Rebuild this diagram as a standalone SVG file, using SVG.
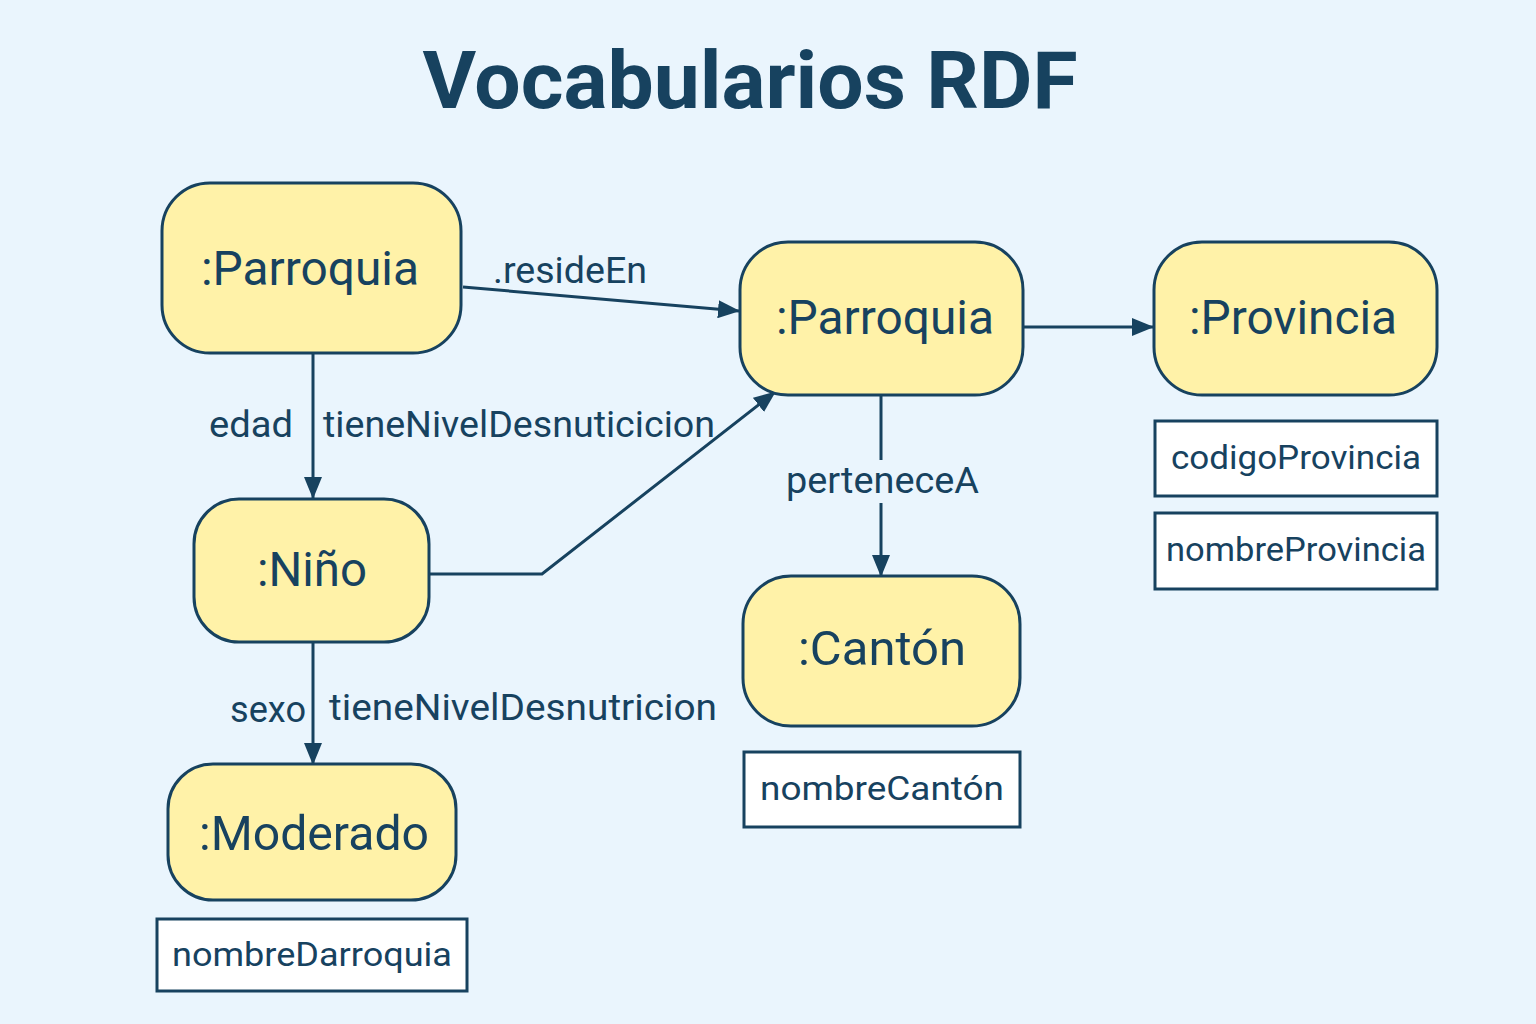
<svg xmlns="http://www.w3.org/2000/svg" width="1536" height="1024" viewBox="0 0 1536 1024">
<defs>
<marker id="arr" viewBox="0 0 22 18" refX="21" refY="9" markerWidth="22" markerHeight="18" markerUnits="userSpaceOnUse" orient="auto">
<path d="M0,0 L22,9 L0,18 z" fill="#17425f"/>
</marker>
<style>
.node{fill:#fff2a8;stroke:#17425f;stroke-width:3}
.attr{fill:#ffffff;stroke:#17425f;stroke-width:3}
.nt{font-family:Roboto,"Liberation Sans",sans-serif;font-size:48px;fill:#17425f;text-anchor:middle}
.at{font-family:Roboto,"Liberation Sans",sans-serif;font-size:34px;fill:#17425f;text-anchor:middle}
.lb{font-family:Roboto,"Liberation Sans",sans-serif;font-size:36px;fill:#17425f}
.ln{fill:none;stroke:#17425f;stroke-width:3}
</style>
</defs>
<rect width="1536" height="1024" fill="#eaf5fd"/>
<text x="750" y="108" font-family="Roboto,'Liberation Sans',sans-serif" font-weight="bold" font-size="80" fill="#17425f" text-anchor="middle" textLength="655" lengthAdjust="spacingAndGlyphs">Vocabularios RDF</text>

<g id="connectors">
<path class="ln" d="M463,287 L739,311" marker-end="url(#arr)"/>
<path class="ln" d="M313,353 L313,498" marker-end="url(#arr)"/>
<path class="ln" d="M429,574 L542,574 L775,392" marker-end="url(#arr)"/>
<path class="ln" d="M1023,327 L1153,327" marker-end="url(#arr)"/>
<path class="ln" d="M881,396 L881,460"/>
<path class="ln" d="M881,503 L881,576" marker-end="url(#arr)"/>
<path class="ln" d="M313,642 L313,764" marker-end="url(#arr)"/>
<text class="lb" x="493" y="283" textLength="154" lengthAdjust="spacingAndGlyphs">.resideEn</text>
<text class="lb" x="209" y="437" textLength="84" lengthAdjust="spacingAndGlyphs">edad</text>
<text class="lb" x="323" y="437" textLength="392" lengthAdjust="spacingAndGlyphs">tieneNivelDesnuticicion</text>
<text class="lb" x="786" y="493" textLength="193" lengthAdjust="spacingAndGlyphs">perteneceA</text>
<text class="lb" x="230" y="722" textLength="76" lengthAdjust="spacingAndGlyphs">sexo</text>
<text class="lb" x="329" y="720" textLength="388" lengthAdjust="spacingAndGlyphs">tieneNivelDesnutricion</text>
</g>

<g id="parroquia1">
<rect class="node" x="162" y="183" width="299" height="170" rx="48"/>
<text class="nt" x="310" y="285" textLength="218" lengthAdjust="spacingAndGlyphs">:Parroquia</text>
</g>
<g id="parroquia2">
<rect class="node" x="740" y="242" width="283" height="153" rx="48"/>
<text class="nt" x="885" y="334" textLength="218" lengthAdjust="spacingAndGlyphs">:Parroquia</text>
</g>
<g id="provincia">
<rect class="node" x="1154" y="242" width="283" height="153" rx="48"/>
<text class="nt" x="1293" y="334" textLength="208" lengthAdjust="spacingAndGlyphs">:Provincia</text>
</g>
<g id="nino">
<rect class="node" x="194" y="499" width="235" height="143" rx="45"/>
<text class="nt" x="312" y="586" textLength="110" lengthAdjust="spacingAndGlyphs">:Niño</text>
</g>
<g id="canton">
<rect class="node" x="743" y="576" width="277" height="150" rx="48"/>
<text class="nt" x="882" y="665" textLength="168" lengthAdjust="spacingAndGlyphs">:Cantón</text>
</g>
<g id="moderado">
<rect class="node" x="168" y="764" width="288" height="136" rx="45"/>
<text class="nt" x="314" y="850" textLength="230" lengthAdjust="spacingAndGlyphs">:Moderado</text>
</g>
<g id="codigoProvincia">
<rect class="attr" x="1155" y="421" width="282" height="75"/>
<text class="at" x="1296" y="469" textLength="250" lengthAdjust="spacingAndGlyphs">codigoProvincia</text>
</g>
<g id="nombreProvincia">
<rect class="attr" x="1155" y="513" width="282" height="76"/>
<text class="at" x="1296" y="561" textLength="260" lengthAdjust="spacingAndGlyphs">nombreProvincia</text>
</g>
<g id="nombreCanton">
<rect class="attr" x="744" y="752" width="276" height="75"/>
<text class="at" x="882" y="800" textLength="244" lengthAdjust="spacingAndGlyphs">nombreCantón</text>
</g>
<g id="nombreDarroquia">
<rect class="attr" x="157" y="919" width="310" height="72"/>
<text class="at" x="312" y="966" textLength="280" lengthAdjust="spacingAndGlyphs">nombreDarroquia</text>
</g>
</svg>
